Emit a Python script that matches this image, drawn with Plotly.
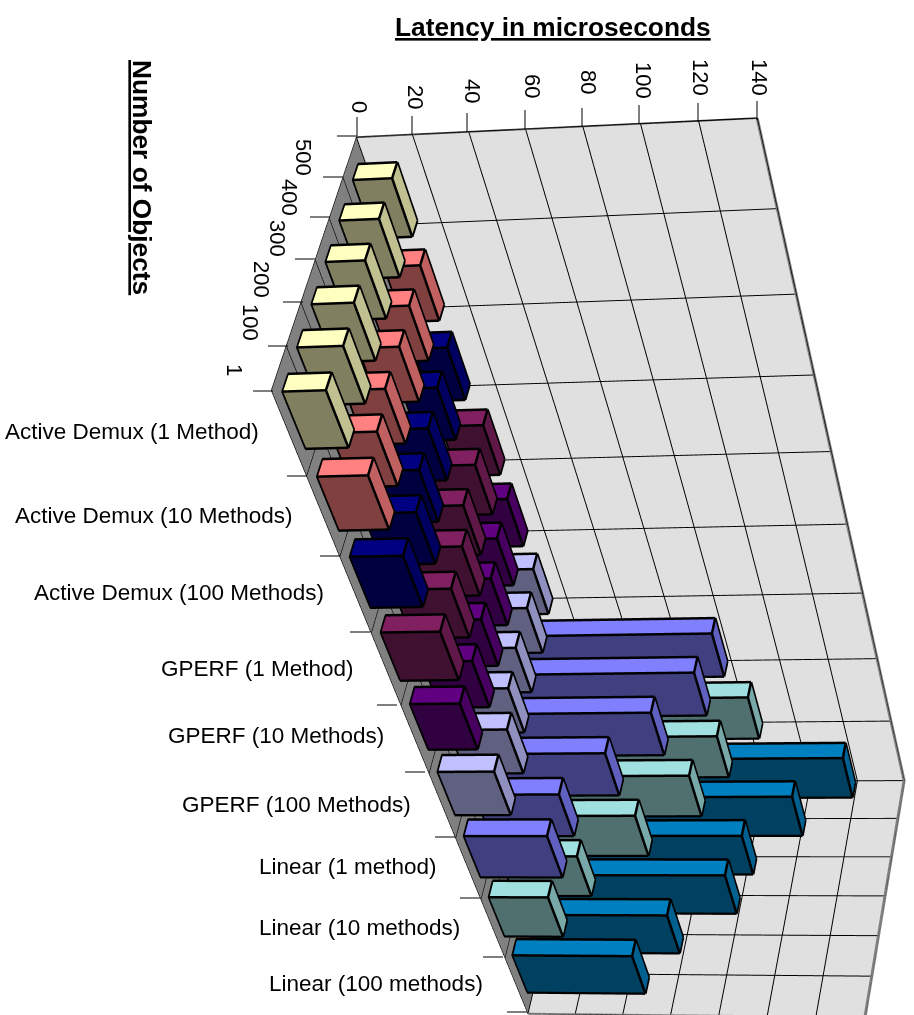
import plotly.graph_objects as go
W,H=1800,2552
SERIES=["Active Demux (1 Method)","Active Demux (10 Methods)","Active Demux (100 Methods)","GPERF (1 Method)","GPERF (10 Methods)","GPERF (100 Methods)","Linear (1 method)","Linear (10 methods)","Linear (100 methods)"]
OBJECTS=["1","100","200","300","400","500"]
VALUE_TICKS=["0","20","40","60","80","100","120","140"]
AD1=[15.0,16.0,14.9,14.0,14.2,14.2]
AD10=[18.0,16.4,14.6,15.0,14.0,13.5]
AD100=[19.3,19.4,16.0,14.8,13.7,13.0]
GP1=[22.1,21.7,21.4,17.5,17.7,16.5]
GP10=[19.1,19.4,18.5,18.0,16.2,16.0]
GP100=[22.1,22.9,19.2,18.0,18.4,16.8]
LIN1=[33.2,33.9,48.4,63.0,76.8,80.6]
LIN10=[24.3,32.1,52.0,70.5,78.5,88.0]
LIN100=[49.8,60.6,81.1,84.8,102.6,120.9]
VALUES=[AD1,AD10,AD100,GP1,GP10,GP100,LIN1,LIN10,LIN100]
TOP=["#FFFFC0","#FF8080","#000080","#802060","#600080","#C0C0FF","#8080FF","#A0E0E0","#0080C0"]
FRONT=["#808060","#804040","#000040","#401030","#300040","#606080","#404080","#507070","#004060"]
END=["#C0C090","#C06060","#000060","#601848","#480060","#9090C0","#6060C0","#78A8A8","#006090"]
EYE=[0.8829,2.1423,-2.1692];CENTER=[0.2654,0.4810,0.4725];UP=[0.0081,-0.7374,-0.6754];ASPECT=[0.3813,0.3376,0.8899]
fig=go.Figure()
BX,BY,BZ=[],[],[]
e=.01
for s,row in enumerate(VALUES):
    xs,ys,zs,I,J_,K,fc=[],[],[],[],[],[],[]
    for c_,v in enumerate(row):
        y0,y1=(5-c_)+.3,(5-c_)+.7;z0,z1=s+1/6,s+5/6
        n=len(xs)
        for a in (.05,v-.05):
            for b in (y0+e,y1-e):
                for g in (z0+e,z1-e):
                    xs.append(a);ys.append(b);zs.append(g)
        quads=[((0,1,3,2),END[s]),((4,5,7,6),END[s]),((0,1,5,4),FRONT[s]),((2,3,7,6),FRONT[s]),((0,2,6,4),TOP[s]),((1,3,7,5),FRONT[s])]
        for q,col in quads:
            for tri in ((q[0],q[1],q[2]),(q[0],q[2],q[3])):
                I.append(n+tri[0]);J_.append(n+tri[1]);K.append(n+tri[2]);fc.append(col)
        pts=[(a,b,g) for a in (0,v) for b in (y0,y1) for g in (z0,z1)]
        for a_,b_ in [(0,1),(2,3),(4,5),(6,7),(0,2),(1,3),(4,6),(5,7),(0,4),(1,5),(2,6),(3,7)]:
            BX+=[pts[a_][0],pts[b_][0],None];BY+=[pts[a_][1],pts[b_][1],None];BZ+=[pts[a_][2],pts[b_][2],None]
    fig.add_trace(go.Mesh3d(x=xs,y=ys,z=zs,i=I,j=J_,k=K,facecolor=fc,flatshading=True,name=SERIES[s],
        lighting=dict(ambient=1,diffuse=0,specular=0,roughness=1,fresnel=0),hoverinfo="skip",showscale=False))
fig.add_trace(go.Scatter3d(x=BX,y=BY,z=BZ,mode="lines",line=dict(color="black",width=5),hoverinfo="skip",showlegend=False))
fig.add_trace(go.Scatter3d(x=[140,140,140],y=[0,0,6],z=[0,9,9],mode="lines",line=dict(color="#808080",width=6),hoverinfo="skip",showlegend=False))
fig.add_trace(go.Scatter3d(x=[0,140],y=[0,0],z=[0,0],mode="lines",line=dict(color="#404040",width=3.5),hoverinfo="skip",showlegend=False))
fig.add_trace(go.Scatter3d(x=[0,140],y=[6,6],z=[9,9],mode="lines",line=dict(color="#808080",width=4),hoverinfo="skip",showlegend=False))
def ax(dt,bg):
    return dict(showbackground=True,backgroundcolor=bg,showgrid=True,gridcolor="black",gridwidth=2,dtick=dt,tick0=0,
        showticklabels=False,title=dict(text=""),zeroline=False,showline=False,showspikes=False,ticks="")
sc=dict(domain=dict(x=[0,1],y=[0,1]),aspectmode="manual",aspectratio=dict(x=ASPECT[0],y=ASPECT[1],z=ASPECT[2]),dragmode="orbit",
    camera=dict(eye=dict(x=EYE[0],y=EYE[1],z=EYE[2]),center=dict(x=CENTER[0],y=CENTER[1],z=CENTER[2]),up=dict(x=UP[0],y=UP[1],z=UP[2]),projection=dict(type="perspective")),
    xaxis={**ax(20,"#808080"),"range":[0,140]},yaxis={**ax(1,"#E0E0E0"),"range":[0,6]},zaxis={**ax(1,"#E0E0E0"),"range":[0,9]})
def px(x):return x/W
def py(y):return 1-y/H
ann=[]
def txt(s,x,y,size=18,ang=0,xa="center",ya="middle"):
    ann.append(dict(text=s,x=px(x),y=py(y),xref="paper",yref="paper",showarrow=False,textangle=ang,xanchor=xa,yanchor=ya,font=dict(family="Liberation Sans",size=size,color="black")))
txt("<b><u>Latency in microseconds</u></b>",553,27,26.3)
txt("<b><u>Number of Objects</u></b>",142,177,26.3,90)
for s,x,y in zip(VALUE_TICKS,[359,415,473,532,589,643,700,759],[107,97,91,86,82,80,77,77]): txt(s,x,y,22,90)
for s,x,y in zip(OBJECTS,[235,250,262,277,290,304],[370,322,279,238,197,157]): txt(s,x,y,22,90)
for s,x,y in zip(SERIES,[261,295,326,356,386,413,439,462,485],[431,515,593,668,736,804,867,927,983]): txt(s,x,y,22.5,0,"right")
shapes=[]
for x,y in [(357,136),(412,135),(467,132),(525,129),(582,127),(639,124),(698,122),(757,120)]:
    shapes.append(dict(type="line",xref="paper",yref="paper",x0=px(x),x1=px(x),y0=py(y),y1=py(y-19),line=dict(color="black",width=1)))
for x,y in [(357,136),(343,177),(330,217),(315,259),(303,302),(288,346),(273,391),(307,476),(340,556),(370,632),(397,705),(425,772),(455,837),(480,898),(503,957),(527,1012)]:
    shapes.append(dict(type="line",xref="paper",yref="paper",x0=px(x-20),x1=px(x),y0=py(y),y1=py(y),line=dict(color="black",width=1)))
fig.update_layout(width=W,height=H,margin=dict(l=0,r=0,t=0,b=0),autosize=False,scene=sc,annotations=ann,shapes=shapes,showlegend=False,paper_bgcolor="white")
fig.write_html("out.html",post_script="document.body.style.margin='0';")
